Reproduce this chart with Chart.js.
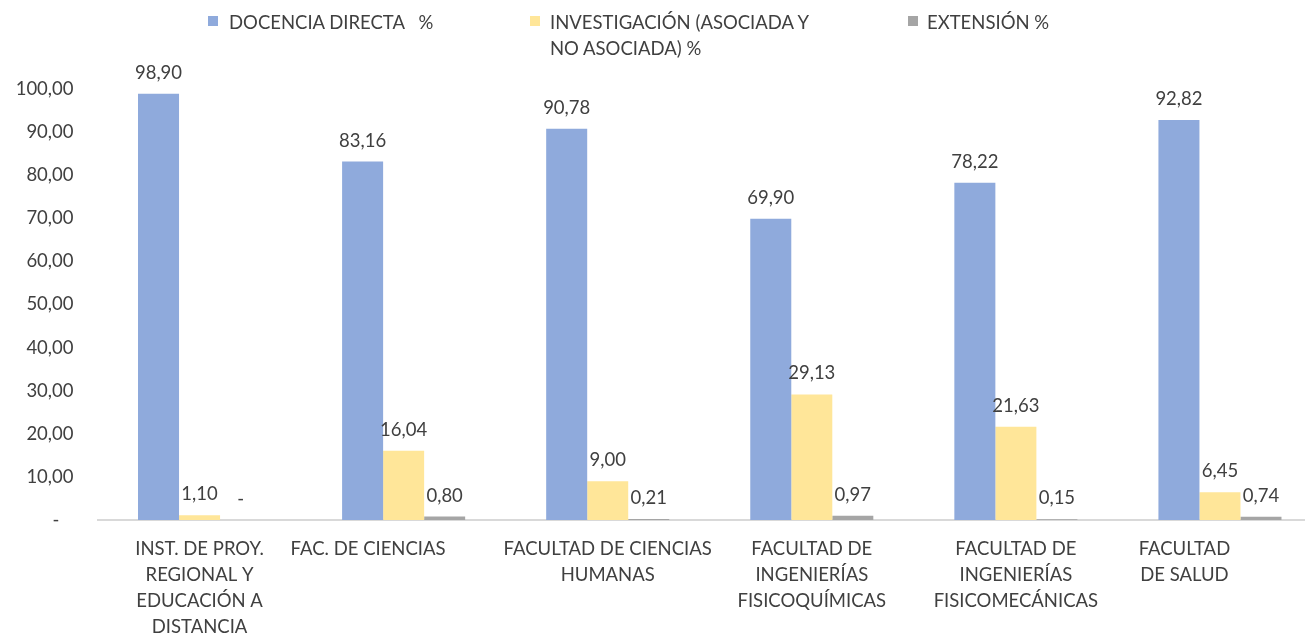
<!DOCTYPE html>
<html><head><meta charset="utf-8">
<script src="https://cdn.jsdelivr.net/npm/chart.js@4.4.1/dist/chart.umd.min.js"></script>
<style>
html,body{margin:0;padding:0;background:#fff;overflow:hidden;}
#wrap{position:relative;width:1305px;height:635px;overflow:hidden;background:#fff;}
#c{position:absolute;left:0;top:0;}
.leg{position:absolute;font-family:Lato,sans-serif;font-size:18.5px;color:#404040;line-height:26px;white-space:pre;}
.sw{position:absolute;width:10px;height:10px;}
</style></head>
<body>
<div id="wrap">
  <canvas id="c" width="1330" height="635"></canvas>
  <div class="sw" style="left:208px;top:16px;background:#8faadc"></div>
  <div class="leg" style="left:229px;top:9px">DOCENCIA DIRECTA   %</div>
  <div class="sw" style="left:530px;top:16px;background:#ffe699"></div>
  <div class="leg" style="left:550px;top:9px">INVESTIGACIÓN (ASOCIADA Y
NO ASOCIADA) %</div>
  <div class="sw" style="left:908px;top:16px;background:#a5a5a5"></div>
  <div class="leg" style="left:927px;top:9px">EXTENSIÓN %</div>
</div>
<script>
const categories = [
  ['INST. DE PROY.', 'REGIONAL Y', 'EDUCACIÓN A', 'DISTANCIA'],
  ['FAC. DE CIENCIAS'],
  ['FACULTAD DE CIENCIAS', 'HUMANAS'],
  ['FACULTAD DE', 'INGENIERÍAS', 'FISICOQUÍMICAS'],
  ['FACULTAD DE', 'INGENIERÍAS', 'FISICOMECÁNICAS'],
  ['FACULTAD', 'DE SALUD']
];
const seriesNames = ['DOCENCIA DIRECTA   %', 'INVESTIGACIÓN (ASOCIADA Y NO ASOCIADA) %', 'EXTENSIÓN %'];
const docencia = [98.90, 83.16, 90.78, 69.90, 78.22, 92.82];
const investigacion = [1.10, 16.04, 9.00, 29.13, 21.63, 6.45];
const extension = [0, 0.80, 0.21, 0.97, 0.15, 0.74];
const yTicks = [0, 10, 20, 30, 40, 50, 60, 70, 80, 90, 100];

// styling only: trailing-space padding to reproduce label offsets
const labelPad = [0, 15, 0, 0, 0, 15];
const FONT = 'Lato';

function fmt(v) {
  return v === 0 ? '-' : v.toFixed(2).replace('.', ',');
}

const valueLabels = {
  id: 'valueLabels',
  afterDatasetsDraw(chart) {
    const ctx = chart.ctx;
    ctx.save();
    ctx.font = '18.5px ' + FONT;
    ctx.fillStyle = '#404040';
    ctx.textAlign = 'center';
    ctx.textBaseline = 'middle';
    chart.data.datasets.forEach((ds, di) => {
      const meta = chart.getDatasetMeta(di);
      meta.data.forEach((el, i) => {
        ctx.fillText(fmt(ds.data[i]), el.x, el.y - 21);
      });
    });
    ctx.restore();
  }
};

function build() {
  new Chart(document.getElementById('c'), {
    type: 'bar',
    data: {
      labels: categories,
      datasets: [
        { label: seriesNames[0], data: docencia, backgroundColor: '#8faadc' },
        { label: seriesNames[1], data: investigacion, backgroundColor: '#ffe699' },
        { label: seriesNames[2], data: extension, backgroundColor: '#a5a5a5' }
      ]
    },
    options: {
      responsive: false,
      animation: false,
      devicePixelRatio: 1,
      layout: { padding: { top: 89, right: 8, left: 0, bottom: 0 } },
      datasets: { bar: { barPercentage: 1, categoryPercentage: 0.603 } },
      plugins: { legend: { display: false }, tooltip: { enabled: false } },
      scales: {
        x: {
          grid: { display: false, drawTicks: false },
          border: { display: true, color: '#d9d9d9', width: 2 },
          ticks: {
            padding: 16,
            color: '#404040',
            maxRotation: 0,
            autoSkip: false,
            font: { family: FONT, size: 18.5, lineHeight: 26 / 18.5 },
            callback: function (value, index) {
              const lines = categories[index];
              const pad = ' '.repeat(labelPad[index]);
              return lines.map(l => l + pad);
            }
          },
          afterFit: s => { s.height = 115; }
        },
        y: {
          min: 0, max: 100,
          afterBuildTicks: s => { s.ticks = yTicks.map(v => ({ value: v })); },
          grid: { display: false, drawTicks: false },
          border: { display: false },
          ticks: {
            padding: 24,
            color: '#404040',
            font: { family: FONT, size: 18.5 },
            callback: v => v === 0 ? '-   ' : v.toFixed(2).replace('.', ',')
          },
          afterFit: s => { s.width = 97.5; }
        }
      }
    },
    plugins: [valueLabels]
  });
}

if (document.fonts && document.fonts.load) {
  document.fonts.load('18.5px Lato').then(build, build);
} else {
  build();
}
</script>
</body></html>
